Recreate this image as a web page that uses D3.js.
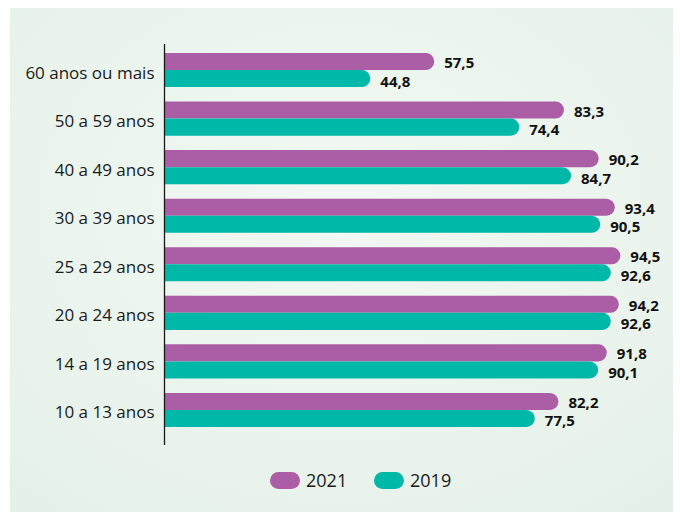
<!DOCTYPE html>
<html>
<head>
<meta charset="utf-8">
<script src="https://cdn.jsdelivr.net/npm/d3@7"></script>
<style>
  html, body { margin: 0; padding: 0; background: #ffffff; }
  svg { display: block; }
</style>
</head>
<body>
<svg id="chart" width="680" height="512"></svg>
<script>
const categories = ["60 anos ou mais", "50 a 59 anos", "40 a 49 anos", "30 a 39 anos", "25 a 29 anos", "20 a 24 anos", "14 a 19 anos", "10 a 13 anos"];
const seriesNames = ["2021", "2019"];
const values2021 = [57.5, 83.3, 90.2, 93.4, 94.5, 94.2, 91.8, 82.2];
const values2019 = [44.8, 74.4, 84.7, 90.5, 92.6, 92.6, 90.1, 77.5];
const colors = ["#ab5ea5", "#00b8a7"];

const svg = d3.select("#chart");
const font = "'Open Sans', sans-serif";

// background panel
const defs = svg.append("defs");
const grad = defs.append("radialGradient").attr("id", "bg")
  .attr("cx", "50%").attr("cy", "40%").attr("r", "75%");
grad.append("stop").attr("offset", "0%").attr("stop-color", "#f2f8f3");
grad.append("stop").attr("offset", "100%").attr("stop-color", "#e5f1e8");
svg.append("rect").attr("x", 10).attr("y", 8).attr("width", 663).attr("height", 504)
  .attr("fill", "url(#bg)");

const x = d3.scaleLinear().domain([0, 100]).range([145, 648]);
const y = d3.scaleBand().domain(categories).range([53, 427]).paddingInner(0.2975).paddingOuter(0);
const ys = d3.scaleBand().domain(seriesNames).range([0, y.bandwidth()]);

const axisX = 164.5;
const barStart = 165;
const data = categories.map((c, i) => ({ cat: c, vals: [values2021[i], values2019[i]] }));
const labelDy = [6.5, 8];

function barPath(x0, x1, y0, h) {
  const r = Math.min(h / 2, x1 - x0);
  return `M${x0},${y0}H${x1 - r}A${r},${r} 0 0 1 ${x1},${y0 + r}V${y0 + h - r}A${r},${r} 0 0 1 ${x1 - r},${y0 + h}H${x0}Z`;
}

const g = svg.append("g");
data.forEach(d => {
  seriesNames.forEach((s, si) => {
    const v = d.vals[si];
    const y0 = y(d.cat) + ys(s);
    const h = ys.bandwidth();
    g.append("path").attr("d", barPath(barStart, x(v), y0, h)).attr("fill", colors[si]);
    g.append("text")
      .attr("x", x(v) + 10)
      .attr("y", y0 + h / 2 + labelDy[si])
      .attr("font-family", font).attr("font-weight", 700).attr("font-size", 15)
      .attr("fill", "#111")
      .text(d3.format(".1f")(v).replace(".", ","));
  });
});

// y axis
const yAxis = d3.axisLeft(y).tickSize(0).tickPadding(10);
const ax = svg.append("g").attr("transform", `translate(${axisX},0)`).call(yAxis);
ax.select(".domain").remove();
ax.selectAll("text").attr("font-family", font).attr("font-size", 17).attr("fill", "#1a1a1a")
  .attr("dy", null).attr("y", 8.5);
svg.append("line").attr("x1", axisX).attr("x2", axisX).attr("y1", 44).attr("y2", 445)
  .attr("stroke", "#1a1a1a").attr("stroke-width", 1.3);

// legend
const legend = svg.append("g");
const legX = [270, 374];
seriesNames.forEach((s, i) => {
  legend.append("rect").attr("x", legX[i]).attr("y", 472).attr("width", 30).attr("height", 17)
    .attr("rx", 8.5).attr("fill", colors[i]);
  legend.append("text").attr("x", legX[i] + 36).attr("y", 487)
    .attr("font-family", font).attr("font-size", 18).attr("fill", "#1a1a1a").text(s);
});
</script>
</body>
</html>
